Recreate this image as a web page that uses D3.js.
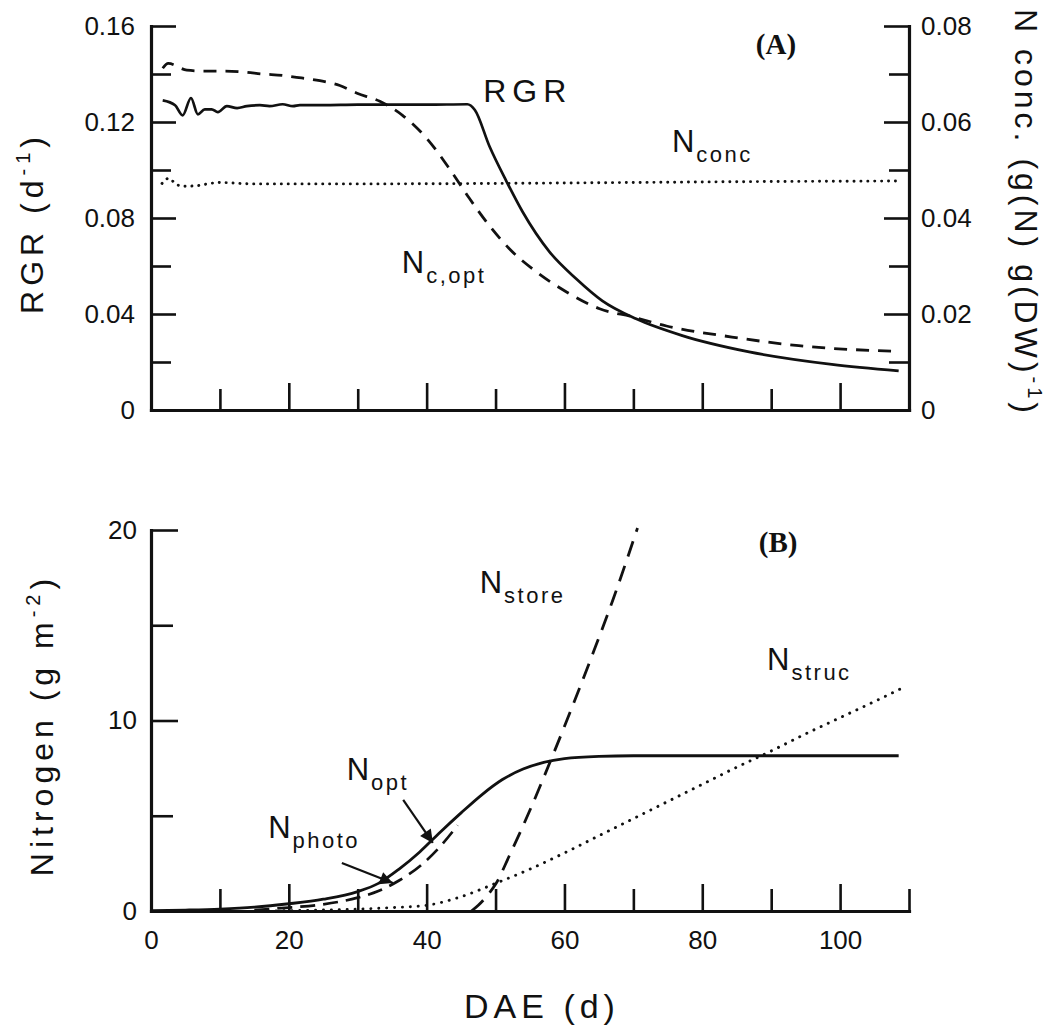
<!DOCTYPE html>
<html>
<head>
<meta charset="utf-8">
<script src="https://cdn.jsdelivr.net/npm/d3@7"></script>
<style>
  html, body { margin: 0; padding: 0; background: #fff; }
  svg { display: block; font-family: "Liberation Sans", Arial, sans-serif; }
  .tick text { font-family: "Liberation Sans", Arial, sans-serif; font-size: 26px; fill: #111; }
</style>
</head>
<body>
<svg id="chart" width="1053" height="1030"></svg>
<script>
// ---- Panel A: relative growth rate and N concentration ----
const daeRGR = [1.7, 3.5, 4.6, 5.8, 6.8, 7.8, 8.8, 9.7, 11, 12.5, 13.9, 15.8, 17.2, 19.1, 20.6, 21.6,
                25, 30, 35, 40, 45.9, 47.0, 49.1, 51.6, 53.9, 57.8, 61.7, 65.5, 70.4, 77.1, 86.8, 98.8, 108.5];
const rgr    = [0.129, 0.127, 0.1228, 0.130, 0.1232, 0.1253, 0.1253, 0.1241, 0.1266, 0.1258, 0.1266, 0.1270,
                0.1266, 0.1274, 0.1266, 0.1270, 0.1270, 0.1272, 0.1272, 0.1272, 0.1274, 0.125, 0.110, 0.0952,
                0.0827, 0.066, 0.0547, 0.0455, 0.038, 0.031, 0.0242, 0.019, 0.0163];

const daeNcOpt = [1.7, 2.5, 5.2, 7.8, 10.7, 13.6, 16.2, 19.1, 20.6, 24.5, 27.4, 29.9, 33.2, 36.5, 40, 43.3,
                  46.2, 49.1, 52, 55.9, 60.3, 65.1, 69.9, 74.8, 84.3, 94, 108.5];
const ncOpt    = [0.0712, 0.0722, 0.0708, 0.0706, 0.0706, 0.0704, 0.0700, 0.0697, 0.0694, 0.0686, 0.0676,
                  0.0660, 0.0643, 0.0614, 0.0566, 0.0503, 0.0441, 0.0384, 0.0336, 0.0288, 0.0246, 0.0211,
                  0.0194, 0.0175, 0.0152, 0.0134, 0.0122];

const daeNconc = [1.6, 2.6, 3.5, 4.6, 6.4, 8.6, 9.7, 15, 30, 50, 70, 90, 108.5];
const nConc    = [0.0472, 0.0483, 0.0472, 0.0466, 0.0467, 0.0472, 0.0474, 0.0471, 0.0471, 0.0472, 0.0474, 0.0476, 0.0477];

// ---- Panel B: nitrogen pools ----
const daeNopt = [0, 5, 10, 15, 20, 25, 30, 33, 36, 39, 42, 45, 48, 51, 54, 57, 60, 65, 70, 80, 90, 100, 108.5];
const nOpt    = [0.02, 0.05, 0.1, 0.2, 0.38, 0.62, 1.02, 1.45, 2.2, 3.1, 4.15, 5.15, 6.1, 6.9, 7.45, 7.8, 8.0,
                 8.12, 8.15, 8.15, 8.15, 8.15, 8.15];

const daeNphoto = [15, 20, 25, 30, 33, 36, 39, 42, 44.5];
const nPhoto    = [0.05, 0.18, 0.35, 0.7, 1.05, 1.6, 2.35, 3.4, 4.5];

const daeNstore = [46.5, 47.5, 49, 50, 52, 55, 58, 61, 64, 67, 70.6];
const nStore    = [0, 0.3, 0.9, 1.4, 2.9, 5.3, 7.9, 10.6, 13.4, 16.3, 20.1];

const daeNstruc = [17, 25, 30, 35, 40, 45, 50, 55, 60, 65, 70, 75, 80, 85, 90, 95, 100, 105, 109];
const nStruc    = [0, 0.05, 0.1, 0.18, 0.3, 0.75, 1.45, 2.2, 3.05, 3.95, 4.85, 5.75, 6.65, 7.55, 8.4, 9.3,
                   10.15, 11.0, 11.7];

// Tick values
const xMajor = [20, 40, 60, 80, 100];
const xMinorA = [10, 30, 50, 70, 90];
const xMinorB = [10, 30, 50, 70, 90, 110];
const xLabels = [0, 20, 40, 60, 80, 100];
const rgrMajor = [0, 0.04, 0.08, 0.12, 0.16];
const rgrMinor = [0.02, 0.06, 0.10, 0.14];
const concMajor = [0, 0.02, 0.04, 0.06, 0.08];
const concMinor = [0.01, 0.03, 0.05, 0.07];
const nMajor = [0, 10, 20];
const nMinor = [5, 15];

const svg = d3.select("#chart");
svg.append("rect").attr("width", 1053).attr("height", 1030).attr("fill", "#fff");

const x = d3.scaleLinear().domain([0, 110]).range([151, 909]);
const yRGR = d3.scaleLinear().domain([0, 0.16]).range([410, 26]);
const yConc = d3.scaleLinear().domain([0, 0.08]).range([410, 26]);
const yN = d3.scaleLinear().domain([0, 20]).range([911, 530]);

const ink = "#111";

function zip(xs, ys) { return xs.map((d, i) => [d, ys[i]]); }

function drawAxis(g, axis, withDomain) {
  g.call(axis);
  g.selectAll(".tick line").attr("stroke", ink).attr("stroke-width", 2.6);
  if (withDomain) {
    g.select(".domain").attr("stroke", ink).attr("stroke-width", 3.2).attr("stroke-linecap", "square");
  } else {
    g.select(".domain").remove();
  }
  return g;
}

// ---------- Panel A axes ----------
const gA = svg.append("g");
drawAxis(gA.append("g").attr("transform", "translate(0,410)"),
  d3.axisBottom(x).tickValues(xMajor).tickSize(-27).tickSizeOuter(0).tickFormat(""), true);
drawAxis(gA.append("g").attr("transform", "translate(0,410)"),
  d3.axisBottom(x).tickValues(xMinorA).tickSize(-21).tickFormat(""), false);

drawAxis(gA.append("g").attr("transform", "translate(151,0)"),
  d3.axisLeft(yRGR).tickValues(rgrMajor).tickSize(-25).tickSizeOuter(0).tickPadding(16)
    .tickFormat(d => d === 0 ? "0" : d3.format(".2f")(d)), true);
drawAxis(gA.append("g").attr("transform", "translate(151,0)"),
  d3.axisLeft(yRGR).tickValues(rgrMinor).tickSize(-20).tickFormat(""), false);

drawAxis(gA.append("g").attr("transform", "translate(909,0)"),
  d3.axisRight(yConc).tickValues(concMajor).tickSize(-25).tickSizeOuter(0).tickPadding(12)
    .tickFormat(d => d === 0 ? "0" : d3.format(".2f")(d)), true);
drawAxis(gA.append("g").attr("transform", "translate(909,0)"),
  d3.axisRight(yConc).tickValues(concMinor).tickSize(-20).tickFormat(""), false);

// ---------- Panel B axes ----------
const gB = svg.append("g");
drawAxis(gB.append("g").attr("transform", "translate(0,911)"),
  d3.axisBottom(x).tickValues(xLabels).tickSize(-27).tickSizeOuter(0).tickPadding(20).tickFormat(d3.format("d")), true);
gB.selectAll(".tick").filter(d => d === 0).select("line").remove();
drawAxis(gB.append("g").attr("transform", "translate(0,911)"),
  d3.axisBottom(x).tickValues(xMinorB).tickSize(-22).tickFormat(""), false);

drawAxis(gB.append("g").attr("transform", "translate(151,0)"),
  d3.axisLeft(yN).tickValues(nMajor).tickSize(-27).tickSizeOuter(0).tickPadding(14).tickFormat(d3.format("d")), true);
drawAxis(gB.append("g").attr("transform", "translate(151,0)"),
  d3.axisLeft(yN).tickValues(nMinor).tickSize(-22).tickFormat(""), false);

// ---------- curves ----------
function curve(data, yScale, style) {
  const line = d3.line().x(d => x(d[0])).y(d => yScale(d[1])).curve(d3.curveMonotoneX);
  const p = svg.append("path").datum(data).attr("d", line)
    .attr("fill", "none").attr("stroke", ink).attr("stroke-width", style.w || 2.6)
    .attr("stroke-linejoin", "round");
  if (style.dash) p.attr("stroke-dasharray", style.dash);
  if (style.cap) p.attr("stroke-linecap", style.cap);
  return p;
}

curve(zip(daeNconc, nConc), yConc, { w: 2.9, dash: "0.1 6.8", cap: "round" });
curve(zip(daeNcOpt, ncOpt), yConc, { w: 2.8, dash: "13 9" });
curve(zip(daeRGR, rgr), yRGR, { w: 2.7 });

curve(zip(daeNstruc, nStruc), yN, { w: 2.9, dash: "0.1 7.8", cap: "round" });
curve(zip(daeNphoto, nPhoto), yN, { w: 2.7, dash: "15 8" });
curve(zip(daeNstore, nStore), yN, { w: 2.8, dash: "16 10" });
curve(zip(daeNopt, nOpt), yN, { w: 2.8 });

// ---------- annotation arrows (data coordinates) ----------
const arrowOpt = [[36.6, 5.83], [40.9, 3.57]];
const arrowPhoto = [[27.7, 2.52], [35.1, 1.47]];

svg.append("defs").append("marker")
  .attr("id", "head").attr("viewBox", "0 0 10 10").attr("refX", 10).attr("refY", 5)
  .attr("markerWidth", 18).attr("markerHeight", 13).attr("markerUnits", "userSpaceOnUse")
  .attr("orient", "auto")
  .append("path").attr("d", "M0,0 L10,5 L0,10 Z").attr("fill", ink);

[arrowOpt, arrowPhoto].forEach(a => {
  svg.append("line")
    .attr("x1", x(a[0][0])).attr("y1", yN(a[0][1]))
    .attr("x2", x(a[1][0])).attr("y2", yN(a[1][1]))
    .attr("stroke", ink).attr("stroke-width", 2.2).attr("marker-end", "url(#head)");
});

// ---------- curve labels ----------
function label(px, py, main, sub, opts = {}) {
  const t = svg.append("text").attr("x", px).attr("y", py)
    .attr("font-size", opts.size || 31).attr("fill", ink)
    .style("letter-spacing", (opts.ls != null ? opts.ls : 2) + "px");
  t.append("tspan").text(main);
  if (sub) {
    t.append("tspan").attr("dy", opts.subDy || 10).attr("font-size", 22)
      .style("letter-spacing", "2.5px").text(sub);
  }
  return t;
}
label(x(48.2), yRGR(0.1283), "RGR", null, { size: 32, ls: 6 });
label(x(75.6), yRGR(0.1075), "N", "conc");
label(x(36.4), yRGR(0.0571), "N", "c,opt");
label(x(47.7), yN(16.7), "N", "store");
label(x(89.4), yN(12.65), "N", "struc");
label(x(28.4), yN(6.88), "N", "opt");
label(x(17.0), yN(3.83), "N", "photo");

// panel tags
svg.append("text").attr("x", x(90.7)).attr("y", yRGR(0.1485)).attr("text-anchor", "middle")
  .attr("font-family", "'Liberation Serif', 'Times New Roman', serif").attr("font-weight", "bold")
  .attr("font-size", 29).attr("fill", ink).text("(A)");
svg.append("text").attr("x", x(91)).attr("y", yN(18.85)).attr("text-anchor", "middle")
  .attr("font-family", "'Liberation Serif', 'Times New Roman', serif").attr("font-weight", "bold")
  .attr("font-size", 29).attr("fill", ink).text("(B)");

// ---------- axis titles ----------
function title(tx, ty, rot, parts, ls) {
  const t = svg.append("text")
    .attr("transform", `translate(${tx},${ty}) rotate(${rot})`)
    .attr("text-anchor", "middle").attr("font-size", 32).attr("fill", ink)
    .style("letter-spacing", ls + "px");
  parts.forEach(p => {
    const s = t.append("tspan").text(p.t);
    if (p.sup) s.attr("font-size", 20).attr("dy", -13);
    if (p.back) s.attr("dy", 13);
  });
  return t;
}
title(43, 223, -90, [{ t: "RGR (d" }, { t: "-1", sup: true }, { t: ")", back: true }], 5);
title(1015, 213, 90, [{ t: "N conc. (g(N) g(DW)" }, { t: "-1", sup: true }, { t: ")", back: true }], 4);
title(53, 725, -90, [{ t: "Nitrogen (g m" }, { t: "-2", sup: true }, { t: ")", back: true }], 5);
svg.append("text").attr("x", 542).attr("y", 1018).attr("text-anchor", "middle")
  .attr("font-size", 34).attr("fill", ink).style("letter-spacing", "5px").text("DAE (d)");
</script>
</body>
</html>
